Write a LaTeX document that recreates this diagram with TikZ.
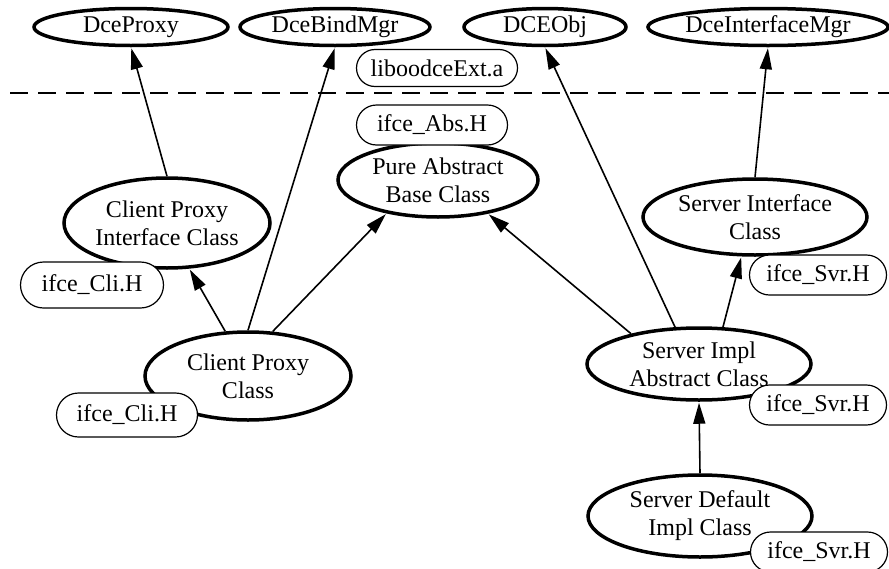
\documentclass[tikz,border=0pt]{standalone}
\usepackage{fontspec}
\setmainfont{Liberation Serif}
\usetikzlibrary{arrows.meta,shapes.geometric,shapes.misc}

\tikzset{
  cls/.style={ellipse, draw, line width=3.5pt, inner sep=0pt, align=center,
    font=\fontsize{24}{28}\selectfont},
  file/.style={rounded rectangle, draw, fill=white, line width=1.2pt, inner sep=0pt,
    font=\fontsize{24}{28}\selectfont},
  dep/.style={line width=1.6pt, -{Triangle[length=21pt,width=12pt]}, shorten >=1pt},
}

\begin{document}
\begin{tikzpicture}[x=1pt, y=-1pt]
\useasboundingbox (0,0) rectangle (889,568);

% library classes above the boundary
\node[cls, minimum width=194pt, minimum height=37pt] (dp)  at (131,27) {DceProxy};
\node[cls, minimum width=190pt, minimum height=37pt] (dbm) at (335,27) {DceBindMgr};
\node[cls, minimum width=162pt, minimum height=37pt] (dco) at (545,27) {DCEObj};
\node[cls, minimum width=240pt, minimum height=37pt] (dim) at (768,27) {DceInterfaceMgr};

\node[file, minimum width=161pt, minimum height=37pt] (lib) at (437,68) {liboodceExt.a};

% boundary
\draw[line width=2pt, dash pattern=on 18pt off 10pt] (10,93) coordinate (bl) -- (889,93) coordinate (br);

% generated classes
\node[cls, minimum width=200pt, minimum height=74pt] (pab) at (438,180) {Pure Abstract\\Base Class};
\node[cls, minimum width=206pt, minimum height=90pt] (cpi) at (167,223) {Client Proxy\\Interface Class};
\node[cls, minimum width=206pt, minimum height=88pt] (cpc) at (248,376) {Client Proxy\\Class};
\node[cls, minimum width=224pt, minimum height=76pt] (sic) at (755,217) {Server Interface\\Class};
\node[cls, minimum width=224pt, minimum height=72pt] (sia) at (699,364) {Server Impl\\Abstract Class};
\node[cls, minimum width=224pt, minimum height=82pt] (sdi) at (700,516) {Server Default\\Impl Class};

% header files
\node[file, minimum width=151pt, minimum height=40pt] (fabs) at (432,125) {ifce\_Abs.H};
\node[file, minimum width=143pt, minimum height=46pt] (fcli1) at (92,285) {ifce\_Cli.H};
\node[file, minimum width=141pt, minimum height=44pt] (fcli2) at (127,415) {ifce\_Cli.H};
\node[file, minimum width=137pt, minimum height=40pt] (fsvr1) at (818,275) {ifce\_Svr.H};
\node[file, minimum width=137pt, minimum height=40pt] (fsvr2) at (818,405) {ifce\_Svr.H};
\node[file, minimum width=137pt, minimum height=40pt] (fsvr3) at (819,552) {ifce\_Svr.H};

% inheritance
\draw[dep] (cpi.north) -- (dp.south);
\draw[dep] (cpc.north) -- (dbm.south);
\draw[dep] (cpc.117) -- (cpi.-64);
\draw[dep] (cpc.61) -- (pab.213);
\draw[dep] (sia.156) -- (pab.-34);
\draw[dep] (sia.123) -- (dco.south);
\draw[dep] (sia.57) -- (sic.251);
\draw[dep] (sic.north) -- (dim.south);
\draw[dep] (sdi.north) -- (sia.south);
\end{tikzpicture}
\end{document}
